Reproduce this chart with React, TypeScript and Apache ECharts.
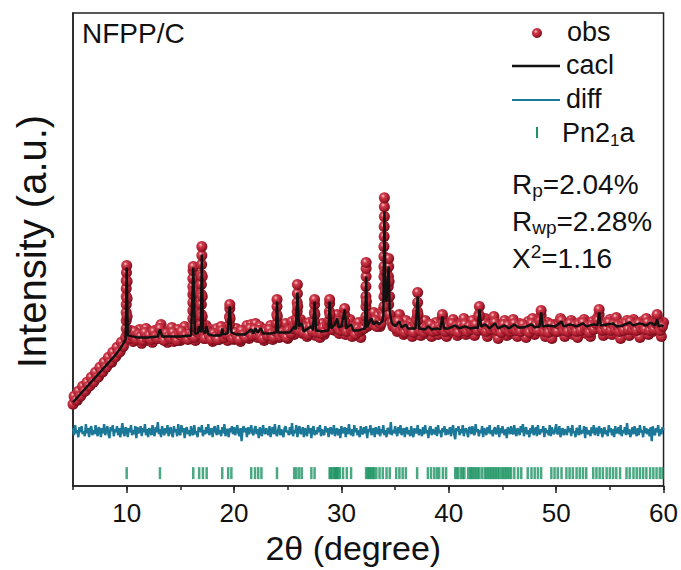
import React, { useEffect, useRef } from "react";
import * as echarts from "echarts";

const X_MIN = 5;
const X_MAX = 60;
const OBS_STEP = 0.2;
const DIFF_STEP = 0.1;
const Y_MAX = 474;
const majorTickValues = [10, 20, 30, 40, 50, 60];

// calculated profile (x = 2theta, y = intensity, arbitrary units)
const calcLine: [number, number][] = [
  [5.0, 84], [5.5, 90], [6.0, 96], [6.5, 102], [7.0, 108], [7.5, 114], [8.0, 120], [8.5, 126], [9.0, 132], [9.4, 138], [9.7, 143], [9.9, 147],
  [10.0, 219], [10.1, 151], [10.5, 150], [11.0, 149], [12.0, 149], [12.9, 150], [13.1, 157], [13.3, 150], [14.0, 150], [15.0, 150], [16.0, 151],
  [16.2, 219], [16.35, 153], [16.6, 153], [16.75, 160], [16.9, 154],
  [17.0, 232], [17.1, 156], [17.3, 153], [17.45, 160], [17.6, 152], [18.0, 151], [18.8, 151], [18.9, 158], [19.0, 152], [19.4, 153],
  [19.6, 180], [19.75, 154], [20.2, 152], [21.0, 152], [21.6, 157], [21.8, 153], [22.0, 158], [22.2, 154], [22.5, 158], [22.7, 153], [23.5, 153], [23.9, 154],
  [24.0, 185], [24.1, 154], [24.6, 154], [25.2, 154], [25.6, 160], [25.75, 157],
  [25.9, 194], [26.05, 160], [26.3, 163], [26.5, 155], [27.2, 160], [27.35, 156],
  [27.5, 185], [27.65, 156], [28.2, 155], [28.8, 156],
  [28.9, 185], [29.05, 158], [29.4, 162], [29.6, 168], [29.75, 159], [30.0, 160],
  [30.3, 177], [30.45, 158], [30.9, 162], [31.1, 156], [31.6, 156], [32.2, 158],
  [32.3, 210], [32.4, 159], [32.55, 163], [32.8, 168], [33.0, 162], [33.25, 165], [33.5, 162], [33.8, 165], [33.9, 170],
  [34.0, 275], [34.1, 190], [34.2, 185],
  [34.4, 220], [34.5, 175], [34.7, 163], [35.0, 160], [35.4, 165], [35.6, 159], [36.0, 162], [36.2, 158], [36.9, 158],
  [37.1, 190], [37.25, 158], [37.8, 157], [38.1, 160], [38.4, 157], [38.9, 158], [39.2, 157],
  [39.4, 170], [39.55, 158], [40.0, 158], [40.6, 161], [41.0, 158], [41.5, 160], [42.0, 158], [42.5, 159], [42.7, 158],
  [42.85, 177], [43.0, 160], [43.4, 162], [43.8, 158], [44.3, 163], [44.6, 158], [45.2, 161], [45.6, 158], [46.1, 162], [46.5, 159], [47.0, 159], [47.7, 162], [48.0, 159], [48.45, 160],
  [48.6, 174], [48.75, 160], [49.2, 161], [49.9, 160], [50.5, 165], [50.7, 160], [51.3, 162], [51.9, 160], [52.5, 163], [52.8, 160], [53.5, 162], [53.85, 161],
  [54.0, 174], [54.15, 161], [54.7, 162], [55.3, 163], [55.6, 160], [56.2, 161], [56.85, 164], [57.2, 161], [57.8, 163], [58.4, 161], [58.8, 164], [59.2, 161],
  [59.4, 167], [59.55, 160], [59.8, 161], [60.0, 160],
];

// observed intensities at 5.0, 5.2, 5.4 ... 60.0
const obsEven: number[] = [
  82, 88, 86, 93, 92, 97, 96, 103, 101, 107,
  106, 113, 110, 118, 115, 122, 121, 127, 124, 132,
  130, 137, 135, 143, 146,
  151, 147, 156, 145, 153, 148, 157, 143, 152, 158,
  146, 153, 144, 156, 149, 158, 162, 147, 155, 144,
  152, 159, 145, 151, 157, 146, 153, 160, 148, 155,
  150, 152, 146, 158, 160, 155, 148, 161, 150, 157,
  145, 153, 158, 147, 160, 150, 156, 146, 160, 154,
  147, 158, 150, 145, 156, 152, 161, 148, 162, 151,
  163, 149, 160, 155, 146, 157, 150, 161, 147, 155,
  160, 149, 158, 151, 163, 148, 157, 165, 152, 168,
  160, 167, 153, 161, 150, 164, 158, 166, 151, 160,
  149, 163, 152, 158, 165, 160, 168, 156, 172, 153,
  165, 170, 152, 163, 167, 150, 160, 154, 164, 149,
  158, 166, 160, 170, 165, 174, 162, 171, 160, 175,
  180, 190, 182, 170, 160, 168, 155, 172, 160, 152,
  166, 157, 163, 150, 159, 168, 162, 151, 160, 166,
  153, 162, 150, 158, 164, 152, 160, 170, 156, 150,
  163, 155, 167, 160, 151, 162, 157, 168, 152, 161,
  155, 166, 151, 160, 172, 163, 156, 168, 150, 161,
  158, 170, 154, 148, 162, 156, 166, 151, 160, 153,
  167, 158, 150, 163, 155, 160, 149, 165, 157, 168,
  152, 161, 166, 171, 158, 150, 164, 156, 148, 162,
  155, 160, 168, 157, 150, 163, 155, 166, 152, 160,
  149, 164, 158, 167, 153, 160, 150, 165, 158, 168,
  172, 160, 151, 164, 156, 167, 152, 161, 169, 155,
  148, 163, 157, 166, 151, 160, 167, 154, 162, 149,
  165, 158, 168, 152, 161, 155, 166, 170, 157, 150,
  164,
];

// observed intensities at 5.1, 5.3, 5.5 ... 59.9
const obsOdd: number[] = [
  90, 86, 95, 90, 100, 95, 104, 100, 109, 104,
  114, 109, 119, 114, 124, 119, 129, 124, 134, 129,
  139, 134, 144, 140, 149,
  153, 148, 151, 155, 147, 152, 150, 146, 154, 149,
  151, 147, 155, 150, 148, 158, 152, 146, 153, 150,
  148, 154, 150, 146, 152, 155, 149, 151, 147, 153,
  151, 149, 155, 158, 152, 154, 148, 156, 151, 147,
  153, 150, 147, 155, 156, 149, 152, 158, 151, 148,
  154, 150, 147, 156, 152, 149, 155, 158, 151, 157,
  152, 156, 150, 148, 155, 151, 157, 153, 149, 155,
  157, 150, 154, 152, 149, 156, 153, 158, 160, 162,
  156, 161, 154, 159, 152, 160, 155, 163, 154, 158,
  153, 159, 155, 161, 163, 157, 162, 160, 165, 156,
  160, 164, 155, 161, 157, 159, 152, 158, 155, 157,
  158, 165, 161, 167, 162, 166, 160, 164, 163, 170,
  195, 200, 172, 164, 161, 158, 165, 156, 160, 154,
  160, 156, 158, 154, 162, 172, 156, 160, 154, 158,
  157, 162, 155, 159, 156, 160, 158, 163, 155, 159,
  157, 163, 156, 160, 154, 161, 158, 162, 155, 160,
  157, 160, 162, 156, 170, 158, 163, 155, 161, 157,
  160, 164, 156, 159, 154, 162, 157, 161, 155, 158,
  163, 156, 160, 155, 162, 157, 159, 154, 163, 157,
  161, 156, 165, 163, 155, 160, 154, 162, 157, 160,
  155, 162, 166, 156, 160, 155, 163, 157, 161, 155,
  162, 156, 164, 158, 160, 154, 161, 157, 163, 166,
  162, 156, 161, 157, 164, 156, 162, 157, 161, 155,
  160, 156, 163, 157, 165, 157, 161, 156, 163, 158,
  161, 157, 164, 156, 162, 157, 163, 166, 156, 160,
];

// observed points climbing the sharp Bragg peaks
const obsPeakPoints: [number, number][] = [
  [9.96, 158], [9.96, 166], [9.96, 174], [9.96, 182], [9.96, 190], [9.96, 198], [9.96, 206], [9.98, 214], [10.0, 221], [10.04, 170], [10.04, 188], [10.04, 205],
  [16.16, 160], [16.16, 168], [16.16, 176], [16.16, 184], [16.16, 192], [16.16, 200], [16.16, 208], [16.18, 216], [16.2, 220], [16.24, 175], [16.24, 195],
  [16.96, 162], [16.96, 172], [16.96, 182], [16.96, 192], [16.96, 202], [16.96, 212], [16.98, 222], [17.0, 231], [17.0, 240], [17.04, 170], [17.04, 190], [17.04, 210],
  [19.58, 162], [19.58, 170], [19.6, 178], [19.6, 182], [19.63, 168],
  [23.98, 163], [23.98, 172], [24.0, 180], [24.0, 187], [24.03, 170],
  [25.88, 166], [25.88, 175], [25.88, 184], [25.9, 193], [25.9, 202], [25.93, 180],
  [27.48, 165], [27.48, 174], [27.5, 182], [27.5, 187], [27.53, 172],
  [28.88, 166], [28.88, 175], [28.9, 183], [28.9, 187], [28.93, 172],
  [30.28, 165], [30.3, 172], [30.3, 178],
  [32.28, 170], [32.28, 180], [32.28, 190], [32.28, 200], [32.3, 210], [32.3, 218], [32.3, 224], [32.33, 185],
  [33.96, 180], [33.96, 190], [33.96, 200], [33.96, 210], [33.96, 220], [33.96, 230], [33.96, 240], [33.98, 250], [33.98, 260], [34.0, 270], [34.0, 280], [34.0, 289],
  [34.06, 200], [34.06, 215], [34.1, 195], [34.15, 205], [34.2, 215],
  [34.36, 190], [34.36, 200], [34.38, 210], [34.4, 220], [34.4, 228], [34.44, 205], [34.48, 190],
  [37.08, 166], [37.08, 175], [37.1, 184], [37.1, 194], [37.13, 172],
  [39.4, 172], [42.83, 170], [42.85, 180], [48.6, 176], [54.0, 177], [59.4, 172],
];

// difference curve (obs - calc) at 5.0, 5.1, 5.2 ... 60.0
const diffResidual: number[] = [
  3, -4, 6, -2, 1, -6, 4, -1, 5, -3,
  0, -5, 7, -2, 3, -6, 2, 5, -4, 1,
  -3, 6, -1, -5, 4, 2, -6, 3, -2, 7,
  -4, 1, 5, -3, -7, 4, 0, 6, -5, 2,
  -1, 5, -4, 3, -6, 1, 8, -2, -5, 4,
  2, -6, 3, -1, 6, -4, 1, -3, 5, -7,
  4, -2, 0, 5, -5, 3, -1, 7, -4, 2,
  -6, 3, 1, -4, 6, -2, -5, 4, -1, 9,
  -3, 2, -6, 5, 0, -4, 3, -2, 6, -5,
  1, 4, -3, -6, 5, -1, 2, -5, 7, -2,
  -4, 6, -1, 3, -7, 2, 4, -3, 1, -5,
  5, -2, -4, 6, -3, 0, -6, 4, 2, -1,
  6, -5, 1, -3, 4, -2, 7, -4, 0, 3,
  -6, 2, 5, -1, -4, 6, -3, 1, -5, 4,
  -2, 7, -5, 2, 1, -6, 3, -1, 5, -3,
  4, -4, 0, 6, -2, -5, 3, -10, 2, 5,
  -1, 3, -6, 4, -3, 1, 6, -2, -4, 2,
  5, -3, 2, -7, 4, -1, -5, 6, 0, -3,
  3, -1, -4, 5, -6, 2, 4, -3, 7, -2,
  -5, 1, 6, -4, 2, -2, -6, 3, 5, -1,
  0, -4, 4, -3, 8, -5, 1, -2, 6, -6,
  2, 5, -3, -1, 4, -6, 3, 0, -5, 6,
  -2, 3, -7, 2, 5, -4, 1, -3, 4, -1,
  6, -5, 2, -2, -4, 5, -1, 3, -6, 2,
  4, -3, -1, 6, -5, 1, 3, -4, 2, -7,
  5, -2, 0, 4, -6, 3, -3, 7, -1, -4,
  2, -5, 6, -1, 3, -4, 1, -6, 5, -2,
  -3, 4, -2, 5, -7, 2, -1, 6, -4, 1,
  3, -6, 4, 0, -3, 5, -5, 2, -2, 6,
  -4, 1, -6, 3, 2, -3, 9, -4, 1, -2,
  5, -1, -5, 4, -2, 6, -4, 0, 3, -6,
  2, 4, -3, 1, -5, 5, -2, -6, 3, -1,
  -2, 6, -4, 2, -1, -5, 4, -3, 6, -2,
  1, -7, 3, 5, -4, 2, -1, -3, 4, -5,
  6, -2, 1, -6, 3, -1, 5, -4, 2, -3,
  -1, 4, -5, 2, 6, -3, -8, 3, 0, 5,
  -4, 2, -2, 6, -5, 1, 3, -1, -6, 4,
  3, -3, 5, -2, -4, 7, -1, 2, -5, 1,
  -2, 5, -6, 3, 0, -4, 4, -2, 6, -3,
  1, -5, 2, 4, -3, -1, 6, -6, 3, -2,
  5, -1, -4, 2, -7, 4, 1, -3, 5, -2,
  -3, 6, -2, -5, 3, 0, -4, 5, -1, 7,
  -5, 2, 4, -3, 1, -6, 3, -2, 6, -4,
  0, 4, -5, 6, -2, -3, 2, -1, 5, -6,
  3, -2, 1, -4, 6, -5, 4, -1, -3, 2,
  7, -3, -2, 5, -6, 1, 3, -4, 2, -1,
  -4, 5, -1, 3, -5, 6, -2, 0, -6, 3,
  2, -4, 6, -3, 1, -2, 5, -7, 4, -1,
  -3, 1, -5, 4, -2, 6, -4, 2, 3, -5,
  5, -2, 3, -6, 0, 4, -3, 1, -5, 6,
  -1, 3, -4, 2, -6, 5, -2, -1, 4, -3,
  6, -5, 1, -2, 4, -4, 8, -3, 2, -6,
  -2, 4, -3, 5, -1, -5, 3, -4, 6, -1,
  1, -6, 5, -2, 3, -3, 2, -5, 4, -10,
  5, -2, -4, 3, -1, 6, -5, 2, -3, 4,
  1,
];

// Bragg reflection positions, Pn2_1a
const reflections: number[] = [
  10.0, 13.1, 16.2, 16.75, 17.1, 17.45, 18.9, 19.45, 19.75, 21.6, 21.95, 22.25, 22.55, 24.0,
  25.6, 25.8, 26.05, 26.3, 27.2, 27.5, 28.9, 29.0, 29.15, 29.3, 29.4, 29.5, 29.6, 29.7, 29.85, 30.15, 30.5, 30.9,
  32.3, 32.45, 32.55, 32.7, 32.8, 32.95, 33.05, 33.25, 33.55, 33.85, 34.2, 34.5, 35.1, 35.4, 35.7, 36.0, 37.05,
  38.05, 38.35, 38.65, 38.9, 39.1, 39.45, 39.75, 40.6, 40.75, 40.9, 41.15, 41.3, 41.45, 41.8, 42.0, 42.1, 42.25, 42.4,
  42.55, 42.7, 42.85, 43.1, 43.35, 43.5, 43.65, 43.8, 43.95, 44.1, 44.25, 44.4, 44.55, 44.7, 44.9, 45.05, 45.2, 45.35,
  45.5, 45.65, 45.8, 46.1, 46.45, 46.75, 47.35, 47.7, 48.0, 48.3, 48.6, 49.55, 49.85, 50.15, 50.5, 50.95, 51.25,
  51.55, 51.9, 52.2, 52.5, 52.8, 53.45, 53.75, 54.05, 54.35, 54.7, 55.0, 55.3, 55.6, 55.95, 56.55, 56.85, 57.2,
  57.5, 57.8, 58.1, 58.4, 58.75, 59.05, 59.35, 59.65, 59.9,
];

const DIFF_LEVEL = 55;
const REFLECTION_LEVEL = 13;

const FONT = "'Liberation Sans', Arial, Helvetica, sans-serif";
const DIFF_BLUE = "#1c7898";
const TICK_GREEN = "#1d9363";

const sphere = {
  type: "radial",
  x: 0.38,
  y: 0.35,
  r: 0.7,
  colorStops: [
    { offset: 0, color: "#f7d0d4" },
    { offset: 0.25, color: "#d2404f" },
    { offset: 0.7, color: "#a8192b" },
    { offset: 1, color: "#650c17" },
  ],
};

export default function App() {
  const ref = useRef<HTMLDivElement>(null);

  useEffect(() => {
    if (!ref.current) return;
    const chart = echarts.init(ref.current, null, { renderer: "svg" });

    const at = (start: number, step: number, i: number) => +(start + i * step).toFixed(1);
    const obsData = obsEven
      .map((v, i) => [at(X_MIN, OBS_STEP, i), v])
      .concat(obsOdd.map((v, i) => [at(X_MIN + 0.1, OBS_STEP, i), v]))
      .concat(obsPeakPoints);
    const diffData = diffResidual.map((v, i) => [at(X_MIN, DIFF_STEP, i), DIFF_LEVEL + v]);
    const tickData = reflections.map((x) => [x, REFLECTION_LEVEL]);

    const textBase = { fontFamily: FONT, fill: "#111" };
    const mainRich = (size: number) => ({ fontFamily: FONT, fontSize: size, lineHeight: 32, color: "#111" });

    chart.setOption({
      animation: false,
      backgroundColor: "#fff",
      grid: {
        left: 73,
        right: 16,
        top: 13,
        bottom: 83,
        show: true,
        borderColor: "#222",
        borderWidth: 1.5,
      },
      xAxis: [
        {
          type: "value",
          min: X_MIN,
          max: X_MAX,
          interval: 5,
          name: "2θ (degree)",
          nameLocation: "middle",
          nameGap: 43,
          nameTextStyle: { fontFamily: FONT, fontSize: 34, color: "#111", padding: [0, 30, 0, 0] },
          axisLine: { show: true, onZero: false, lineStyle: { color: "#222", width: 1.5 } },
          axisTick: { show: true, length: 4, lineStyle: { color: "#222", width: 1.5 } },
          axisLabel: {
            fontFamily: FONT,
            fontSize: 26,
            color: "#111",
            margin: 14,
            formatter: (v: number) => (v % 10 === 0 ? String(v) : ""),
          },
          splitLine: { show: false },
        },
        {
          type: "value",
          min: X_MIN,
          max: X_MAX,
          position: "bottom",
          axisLine: { show: false },
          axisTick: { show: true, length: 7, customValues: majorTickValues, lineStyle: { color: "#222", width: 1.5 } },
          axisLabel: { show: false },
          splitLine: { show: false },
        },
      ],
      yAxis: {
        type: "value",
        min: 0,
        max: Y_MAX,
        name: "Intensity (a.u.)",
        nameLocation: "middle",
        nameGap: 21,
        nameTextStyle: { fontFamily: FONT, fontSize: 40, color: "#111", padding: [0, 0, 0, 16] },
        axisLine: { show: true, lineStyle: { color: "#222", width: 1.5 } },
        axisTick: { show: false },
        axisLabel: { show: false },
        splitLine: { show: false },
      },
      series: [
        {
          name: "obs",
          type: "scatter",
          data: obsData,
          symbol: "circle",
          symbolSize: 11,
          itemStyle: { color: sphere, opacity: 1 },
          silent: true,
          z: 2,
        },
        {
          name: "cacl",
          type: "line",
          data: calcLine,
          showSymbol: false,
          lineStyle: { color: "#111", width: 2.5 },
          silent: true,
          z: 3,
        },
        {
          name: "diff",
          type: "line",
          data: diffData,
          showSymbol: false,
          lineStyle: { color: DIFF_BLUE, width: 2.4 },
          silent: true,
          z: 3,
        },
        {
          name: "Pn2₁a",
          type: "scatter",
          data: tickData,
          symbol: "rect",
          symbolSize: [2.5, 12],
          itemStyle: { color: TICK_GREEN },
          silent: true,
          z: 3,
        },
      ],
      graphic: [
        { type: "text", left: 82, top: 19, style: { ...textBase, text: "NFPP/C", fontSize: 28 } },
        { type: "circle", shape: { cx: 537, cy: 33, r: 5 }, style: { fill: sphere } },
        { type: "text", x: 567, y: 32, style: { ...textBase, text: "obs", fontSize: 27, verticalAlign: "middle" } },
        { type: "line", shape: { x1: 512, y1: 66, x2: 560, y2: 66 }, style: { stroke: "#111", lineWidth: 2.5 } },
        { type: "text", x: 566, y: 65, style: { ...textBase, text: "cacl", fontSize: 27, verticalAlign: "middle" } },
        { type: "line", shape: { x1: 512, y1: 100, x2: 560, y2: 100 }, style: { stroke: DIFF_BLUE, lineWidth: 2 } },
        { type: "text", x: 566, y: 99, style: { ...textBase, text: "diff", fontSize: 27, verticalAlign: "middle" } },
        { type: "rect", shape: { x: 536, y: 127, width: 2, height: 11 }, style: { fill: TICK_GREEN } },
        {
          type: "text",
          x: 562,
          y: 133,
          style: {
            ...textBase,
            text: "{m|Pn2}{s|1}{m|a}",
            verticalAlign: "middle",
            rich: {
              m: mainRich(27),
              s: { fontFamily: FONT, fontSize: 17, lineHeight: 10, verticalAlign: "bottom", color: "#111" },
            },
          },
        },
        {
          type: "text",
          x: 512,
          y: 184,
          style: {
            ...textBase,
            text: "{m|R}{s|p}{m|=2.04%}",
            verticalAlign: "middle",
            rich: {
              m: mainRich(28),
              s: { fontFamily: FONT, fontSize: 19, lineHeight: 10, verticalAlign: "bottom", color: "#111" },
            },
          },
        },
        {
          type: "text",
          x: 512,
          y: 221,
          style: {
            ...textBase,
            text: "{m|R}{s|wp}{m|=2.28%}",
            verticalAlign: "middle",
            rich: {
              m: mainRich(28),
              s: { fontFamily: FONT, fontSize: 19, lineHeight: 10, verticalAlign: "bottom", color: "#111" },
            },
          },
        },
        {
          type: "text",
          x: 512,
          y: 258,
          style: {
            ...textBase,
            text: "{m|X}{s|2}{m|=1.16}",
            verticalAlign: "middle",
            rich: {
              m: mainRich(28),
              s: { fontFamily: FONT, fontSize: 19, lineHeight: 24, verticalAlign: "top", color: "#111" },
            },
          },
        },
      ],
    });

    return () => chart.dispose();
  }, []);

  return (
    <div
      ref={ref}
      style={{ position: "fixed", left: 0, top: 0, width: 681, height: 570, background: "#fff" }}
    />
  );
}
